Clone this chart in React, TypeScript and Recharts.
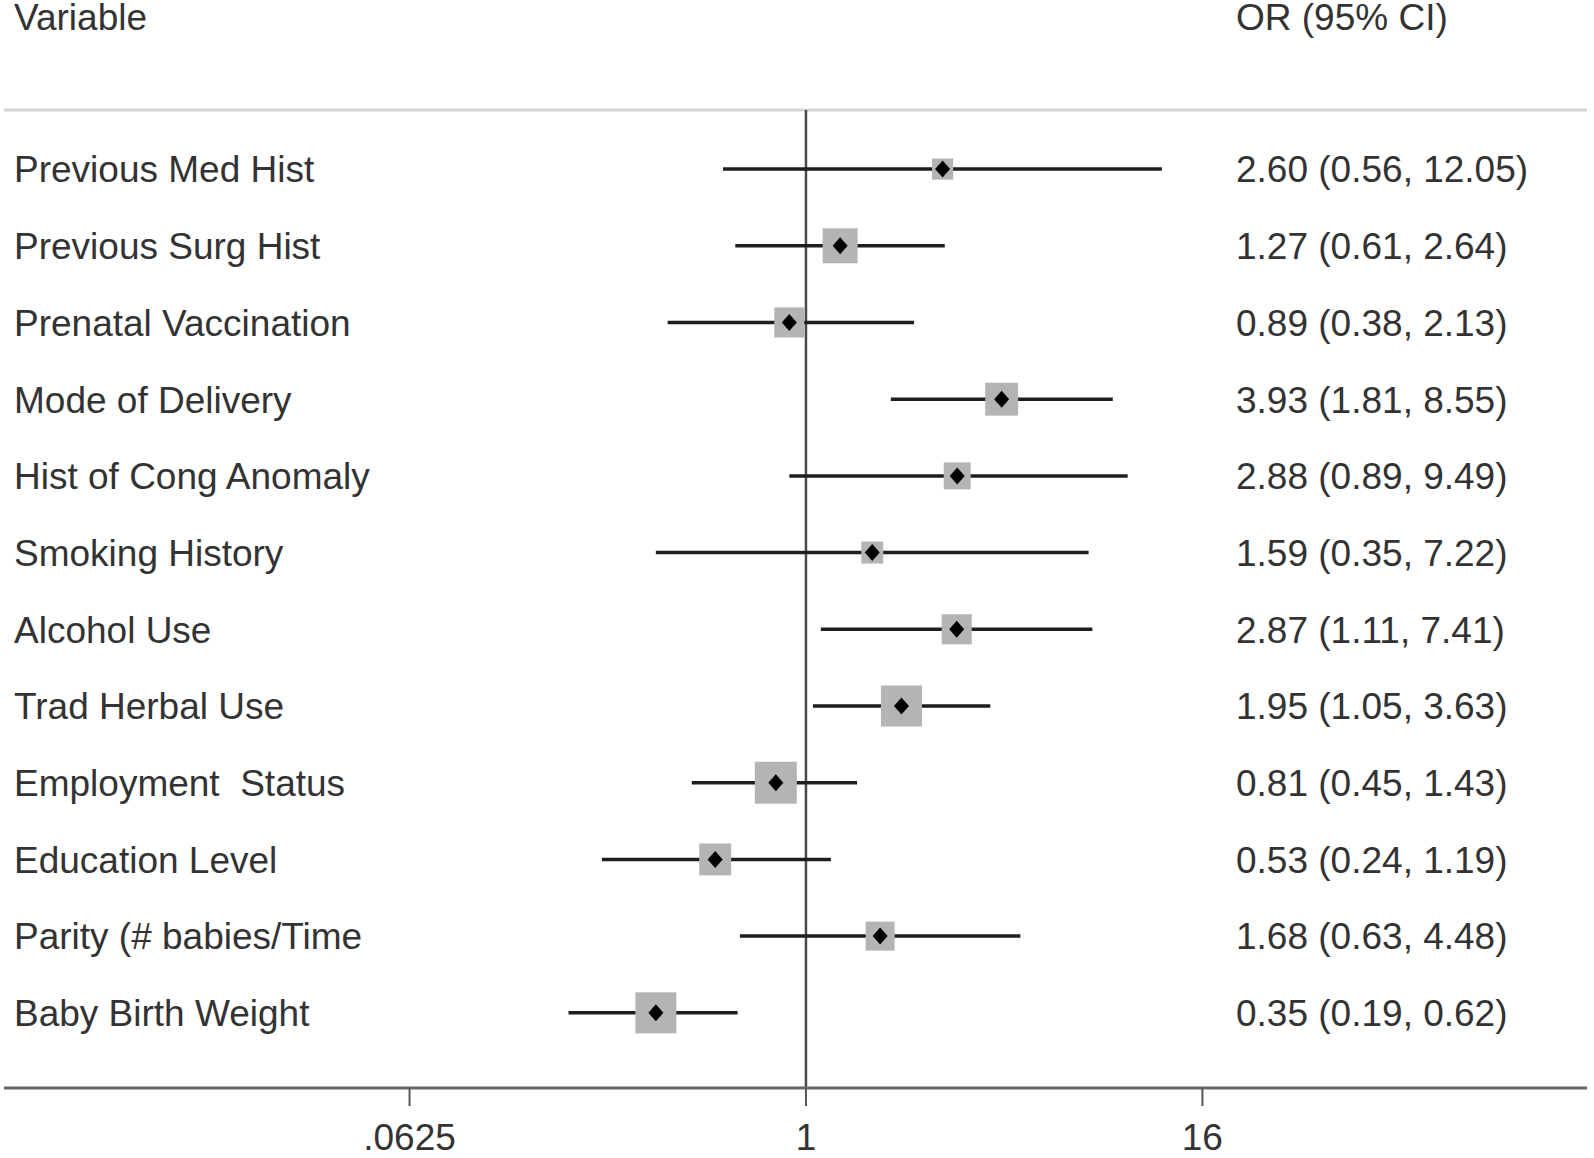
import { ScatterChart, Scatter, XAxis, YAxis, ZAxis, ErrorBar, ReferenceLine } from "recharts";

const variables = [
  "Previous Med Hist",
  "Previous Surg Hist",
  "Prenatal Vaccination",
  "Mode of Delivery",
  "Hist of Cong Anomaly",
  "Smoking History",
  "Alcohol Use",
  "Trad Herbal Use",
  "Employment  Status",
  "Education Level",
  "Parity (# babies/Time",
  "Baby Birth Weight",
];
const oddsRatios = [2.6, 1.27, 0.89, 3.93, 2.88, 1.59, 2.87, 1.95, 0.81, 0.53, 1.68, 0.35];
const ciLow = [0.56, 0.61, 0.38, 1.81, 0.89, 0.35, 1.11, 1.05, 0.45, 0.24, 0.63, 0.19];
const ciHigh = [12.05, 2.64, 2.13, 8.55, 9.49, 7.22, 7.41, 3.63, 1.43, 1.19, 4.48, 0.62];
// study weights (%), box area follows these
const weights = [3.5, 9.6, 7.1, 8.5, 5.7, 3.8, 7.1, 13.2, 13.8, 8.0, 6.6, 13.2];
const xTicks = [0.0625, 1, 16];
const xTickLabels = [".0625", "1", "16"];
const rowTicks = variables.map((_, i) => i);

const FONT = '"Liberation Sans", Arial, sans-serif';
const TEXT = "#333";

const rows = variables.map((name, i) => ({
  name,
  row: i,
  or: oddsRatios[i],
  err: [oddsRatios[i] - ciLow[i], ciHigh[i] - oddsRatios[i]],
  weight: weights[i],
  label: `${oddsRatios[i].toFixed(2)} (${ciLow[i].toFixed(2)}, ${ciHigh[i].toFixed(2)})`,
}));

const WeightBox = (props: any) => {
  const { cx, cy, size } = props;
  const side = 2 * Math.sqrt(Math.max(size || 0, 0) / Math.PI);
  return <rect x={cx - side / 2} y={cy - side / 2} width={side} height={side} fill="#b4b4b4" />;
};

const Diamond = (props: any) => {
  const { cx, cy } = props;
  return <polygon points={`${cx - 7.5},${cy} ${cx},${cy - 8.5} ${cx + 7.5},${cy} ${cx},${cy + 8.5}`} fill="#000" />;
};

const VarTick = (props: any) => {
  const { y, payload } = props;
  return (
    <text x={14} y={y} dy="0.36em" textAnchor="start" fill={TEXT} fontSize={37} fontFamily={FONT} style={{ whiteSpace: "pre" }}>
      {variables[payload.value]}
    </text>
  );
};

const CiTick = (props: any) => {
  const { y, payload } = props;
  return (
    <text x={1236} y={y} dy="0.36em" textAnchor="start" fill={TEXT} fontSize={37} fontFamily={FONT}>
      {rows[payload.value].label}
    </text>
  );
};

export default function App() {
  return (
    <div style={{ position: "absolute", left: 0, top: 0, width: 1594, height: 1158, background: "#fff" }}>
      <svg width={1594} height={60} style={{ position: "absolute", left: 0, top: 0 }}>
        <text x={14} y={30} fill={TEXT} fontSize={37} fontFamily={FONT}>Variable</text>
        <text x={1236} y={30} fill={TEXT} fontSize={37} fontFamily={FONT}>OR (95% CI)</text>
      </svg>
      <ScatterChart width={1594} height={1158} margin={{ top: 110, right: 7, bottom: 10, left: 4 }}>
        <XAxis
          type="number"
          dataKey="or"
          scale="log"
          domain={[0.003665, 235.7]}
          allowDataOverflow
          ticks={xTicks}
          tickFormatter={(v: number) => xTickLabels[xTicks.indexOf(v)] ?? String(v)}
          height={60}
          axisLine={{ stroke: "#666", strokeWidth: 3 }}
          tickLine={{ stroke: "#555", strokeWidth: 2 }}
          tickSize={18}
          tickMargin={18}
          tick={{ fill: TEXT, fontSize: 37, fontFamily: FONT }}
        />
        <YAxis
          yAxisId="rows"
          type="number"
          dataKey="row"
          domain={[-0.77, 11.98]}
          reversed
          allowDataOverflow
          ticks={rowTicks}
          interval={0}
          mirror
          width={10}
          axisLine={false}
          tickLine={false}
          tick={<VarTick />}
        />
        <YAxis
          yAxisId="ci"
          orientation="right"
          type="number"
          dataKey="row"
          domain={[-0.77, 11.98]}
          reversed
          allowDataOverflow
          ticks={rowTicks}
          interval={0}
          mirror
          width={10}
          axisLine={false}
          tickLine={false}
          tick={<CiTick />}
        />
        <ZAxis type="number" dataKey="weight" domain={[0, 100]} range={[0, 10020]} />
        <ReferenceLine yAxisId="rows" y={-0.77} stroke="#d3d3d3" strokeWidth={3} />
        <ReferenceLine yAxisId="rows" x={1} stroke="#4a4a4a" strokeWidth={2.5} />
        <Scatter yAxisId="rows" data={rows} shape={<WeightBox />} isAnimationActive={false} />
        <Scatter yAxisId="rows" data={rows} shape={<Diamond />} isAnimationActive={false}>
          <ErrorBar dataKey="err" direction="x" width={0} stroke="#1e1e1e" strokeWidth={3.5} isAnimationActive={false} />
        </Scatter>
      </ScatterChart>
    </div>
  );
}
